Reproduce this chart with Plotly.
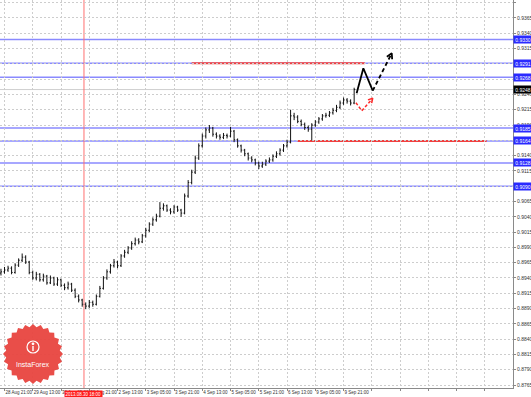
import math
import plotly.graph_objects as go

# ---------------- data (prices in pips above 0.8800) ----------------
BASE = 0.8800
PIP = 0.0001

bar_index = list(range(-2, 200, 2))  # H1 bar index, 0 = 28 Aug 21:00 (2-hour bars)

open_pips = [148, 150, 153, 156, 149, 161, 169, 174, 166, 149, 140, 146, 137, 143, 132, 140, 130, 137, 128, 124,
             130, 120, 110, 104, 97, 94, 100, 97, 110, 123, 140, 150, 160, 166, 160, 176, 182, 189, 196, 202,
             199, 209, 218, 228, 235, 241, 254, 258, 251, 248, 256, 251, 246, 274, 296, 313, 336, 356, 372, 382,
             385, 375, 372, 370, 373, 372, 380, 366, 356, 349, 343, 336, 333, 328, 323, 326, 331, 333, 339, 343,
             349, 356, 362, 405, 403, 396, 391, 386, 383, 390, 395, 400, 405, 406, 410, 414, 419, 426, 431, 429,
             426]
close_pips = [150, 153, 156, 149, 161, 169, 174, 166, 149, 140, 146, 137, 143, 132, 140, 130, 137, 128, 124, 130,
              120, 110, 104, 97, 94, 100, 97, 110, 123, 140, 150, 160, 166, 160, 176, 182, 189, 196, 202, 199,
              209, 218, 228, 235, 241, 254, 258, 251, 248, 256, 251, 246, 274, 296, 313, 336, 356, 372, 382, 385,
              375, 372, 370, 373, 372, 380, 366, 356, 349, 343, 336, 333, 328, 323, 326, 331, 333, 339, 343, 349,
              356, 362, 405, 403, 396, 391, 386, 383, 390, 395, 400, 405, 406, 410, 414, 419, 426, 431, 429, 426,
              448]
high_pips = [155, 158, 160, 159, 164, 172, 180, 177, 168, 152, 150, 148, 147, 145, 144, 142, 141, 139, 131, 134,
             132, 123, 113, 106, 100, 104, 103, 113, 127, 143, 154, 163, 171, 168, 179, 186, 192, 200, 206, 205,
             212, 222, 231, 239, 245, 264, 262, 260, 254, 259, 258, 253, 278, 300, 317, 340, 360, 376, 386, 390,
             387, 378, 375, 377, 376, 387, 382, 368, 358, 351, 345, 339, 335, 330, 330, 334, 337, 342, 347, 352,
             359, 366, 415, 410, 406, 399, 394, 389, 393, 398, 403, 408, 410, 413, 418, 423, 430, 435, 434, 432,
             451]
low_pips = [144, 147, 150, 146, 147, 158, 166, 163, 146, 137, 136, 134, 134, 129, 130, 127, 127, 125, 120, 121,
            117, 107, 100, 93, 89, 91, 93, 95, 108, 121, 137, 147, 157, 156, 158, 173, 179, 186, 193, 195,
            197, 206, 215, 225, 232, 239, 250, 248, 244, 245, 248, 240, 244, 271, 293, 310, 333, 353, 368, 377,
            371, 368, 366, 367, 368, 370, 362, 353, 345, 339, 332, 329, 324, 318, 320, 323, 328, 330, 336, 340,
            346, 353, 360, 398, 393, 388, 382, 379, 365, 387, 392, 397, 402, 403, 407, 411, 416, 423, 425, 422,
            424]

# time axis labels (bar index -> label)
label_bars = [0, 16, 32, 48, 64, 80, 96, 112, 128, 144, 160, 176, 192]
label_text = ["28 Aug 21:00", "29 Aug 13:00", "30 Aug 05:00", "30 Aug 21:00", "2 Sep 13:00", "3 Sep 05:00",
              "3 Sep 21:00", "4 Sep 13:00", "5 Sep 05:00", "5 Sep 21:00", "6 Sep 13:00", "9 Sep 05:00",
              "9 Sep 21:00"]
extra_grid_bars = [208, 224, 240, 256, 272]

# price axis labels ("" where the reference hides the label under a level tag)
price_tick_vals = ["0.8765", "0.8790", "0.8815", "0.8840", "0.8865", "0.8890", "0.8915", "0.8940", "0.8965",
                   "0.8990", "0.9015", "0.9040", "0.9065", "0.9090", "0.9115", "0.9140", "0.9165", "0.9190",
                   "0.9215", "0.9240", "0.9265", "0.9290", "0.9315", "0.9340", "0.9365", "0.9390"]
hidden_ticks = ["0.9090", "0.9165", "0.9265", "0.9290"]

# horizontal levels
blue_levels = [0.9330, 0.9291, 0.9268, 0.9185, 0.9164, 0.9128, 0.9090]
bid_price = 0.9248
red_upper = {"x": [106, 204], "price": 0.9291}
red_lower = {"x": [166, 273], "price": 0.9164}
marker_bar = 45  # 2013.08.30 18:00
marker_label = "2013.08.30 18:00"

# forecast paths (bar index, price)
black_solid_x = [199.4, 203.2, 208.5]
black_solid_y = [0.92419, 0.92828, 0.92461]
black_dash_x = [208.5, 219.3]
black_dash_y = [0.92461, 0.93073]
black_head_x = [216.5, 219.3, 219.5]
black_head_y = [0.93017, 0.93073, 0.92975]
red_path_x = [199.0, 202.3, 208.5]
red_path_y = [0.92265, 0.92134, 0.92337]
red_head_x = [205.8, 208.5, 207.9]
red_head_y = [0.92311, 0.92337, 0.92257]

# ---------------- figure ----------------
W, H = 531, 397
ML, MR, MT, MB = 0, 18, 0, 9
PW, PH = W - ML - MR, H - MT - MB
FONT = "Liberation Sans, Arial, sans-serif"

to_p = lambda v: BASE + v * PIP

fig = go.Figure()
fig.add_trace(go.Ohlc(
    x=bar_index,
    open=[to_p(v) for v in open_pips], high=[to_p(v) for v in high_pips],
    low=[to_p(v) for v in low_pips], close=[to_p(v) for v in close_pips],
    increasing=dict(line=dict(color="#111111", width=1)),
    decreasing=dict(line=dict(color="#111111", width=1)),
    tickwidth=0.3, hoverinfo="skip", showlegend=False,
))

fig.add_trace(go.Scatter(x=black_solid_x, y=black_solid_y, mode="lines",
                         line=dict(color="#000000", width=1.8), showlegend=False, hoverinfo="skip"))
fig.add_trace(go.Scatter(x=black_dash_x, y=black_dash_y, mode="lines",
                         line=dict(color="#000000", width=1.8, dash="4px,3px"), showlegend=False, hoverinfo="skip"))
fig.add_trace(go.Scatter(x=black_head_x, y=black_head_y, mode="lines",
                         line=dict(color="#000000", width=1.8), showlegend=False, hoverinfo="skip"))
fig.add_trace(go.Scatter(x=red_path_x, y=red_path_y, mode="lines",
                         line=dict(color="#ff2a2a", width=1.5, dash="3px,2px"), showlegend=False, hoverinfo="skip"))
fig.add_trace(go.Scatter(x=red_head_x, y=red_head_y, mode="lines",
                         line=dict(color="#ff2a2a", width=1.5), showlegend=False, hoverinfo="skip"))

shapes = []
for lv in blue_levels:
    shapes.append(dict(type="line", xref="paper", x0=0, x1=1, yref="y", y0=lv, y1=lv,
                       line=dict(color="#8a8aff", width=1.5), layer="below"))
shapes.append(dict(type="line", xref="paper", x0=0, x1=1, yref="y", y0=bid_price, y1=bid_price,
                   line=dict(color="#cfcfcf", width=1), layer="below"))
for rl in (red_upper, red_lower):
    shapes.append(dict(type="line", xref="x", x0=rl["x"][0], x1=rl["x"][1], yref="y",
                       y0=rl["price"], y1=rl["price"], line=dict(color="#f04040", width=2), layer="below"))
shapes.append(dict(type="line", xref="x", x0=marker_bar, x1=marker_bar, yref="paper", y0=0, y1=1,
                   line=dict(color="#ff7070", width=1), layer="below"))

# InstaForex badge (decoration, pixel based)
cx, cy, r_out, r_in, teeth = 33, 354, 30, 27, 24
pts = []
for k in range(teeth * 2):
    ang = math.pi * k / teeth
    r = r_out if k % 2 == 0 else r_in
    px = cx + r * math.cos(ang)
    py = cy + r * math.sin(ang)
    pts.append((px / PW, 1 - py / PH))
path = "M " + " L ".join(f"{a:.5f},{b:.5f}" for a, b in pts) + " Z"
shapes.append(dict(type="path", xref="paper", yref="paper", path=path,
                   fillcolor="#e8453f", line=dict(width=0), opacity=0.95, layer="above"))
ir = 6
icy = 347
shapes.append(dict(type="circle", xref="paper", yref="paper",
                   x0=(cx - ir) / PW, x1=(cx + ir) / PW, y0=1 - (icy + ir) / PH, y1=1 - (icy - ir) / PH,
                   line=dict(color="white", width=1.2), fillcolor="rgba(0,0,0,0)", layer="above"))
shapes.append(dict(type="line", xref="paper", yref="paper",
                   x0=cx / PW, x1=cx / PW, y0=1 - (icy + 4) / PH, y1=1 - (icy - 1) / PH,
                   line=dict(color="white", width=1.4), layer="above"))
shapes.append(dict(type="circle", xref="paper", yref="paper",
                   x0=(cx - 1.4) / PW, x1=(cx + 1.4) / PW, y0=1 - (icy - 1.8) / PH, y1=1 - (icy - 4.6) / PH,
                   line=dict(width=0), fillcolor="white", layer="above"))

annotations = []
annotations.append(dict(xref="paper", yref="paper", x=cx / PW, y=1 - 364 / PH, text="InstaForex",
                        xanchor="center", yanchor="middle", showarrow=False,
                        font=dict(color="white", size=7, family=FONT)))

for lv in blue_levels:
    annotations.append(dict(xref="paper", x=1, xanchor="left", yref="y", y=lv, text=f"{lv:.4f}",
                            showarrow=False, bgcolor="#2a2aff", borderpad=0.5, width=17,
                            font=dict(color="white", size=5, family=FONT)))
annotations.append(dict(xref="paper", x=1, xanchor="left", yref="y", y=bid_price, text=f"{bid_price:.4f}",
                        showarrow=False, bgcolor="#000000", borderpad=0.5, width=17,
                        font=dict(color="white", size=5, family=FONT)))
annotations.append(dict(xref="x", x=marker_bar, yref="paper", y=0, xanchor="center", yanchor="top",
                        yshift=-1.5, text=marker_label, showarrow=False, bgcolor="#ff1a1a", borderpad=0.5,
                        font=dict(color="white", size=4.5, family=FONT)))

grid = dict(gridcolor="#cdcdcd", griddash="2px,2px", gridwidth=1)

fig.update_layout(
    width=W, height=H, margin=dict(l=ML, r=MR, t=MT, b=MB),
    paper_bgcolor="white", plot_bgcolor="white", showlegend=False,
    shapes=shapes, annotations=annotations,
    xaxis=dict(range=[-2.55, 287.94], rangeslider=dict(visible=False),
               tickvals=label_bars + extra_grid_bars, ticktext=label_text + [""] * len(extra_grid_bars),
               ticklabelposition="outside right", tickangle=0, ticks="outside", ticklen=2, tickcolor="#888",
               tickfont=dict(size=4.5, color="#333", family=FONT),
               showline=True, linecolor="#8a8a8a", linewidth=1, zeroline=False, automargin=False,
               showgrid=True, **grid),
    yaxis=dict(side="right", range=[0.87601, 0.93944],
               tickvals=[float(t) for t in price_tick_vals],
               ticktext=["" if t in hidden_ticks else t for t in price_tick_vals],
               ticks="outside", ticklen=2, tickcolor="#888",
               tickfont=dict(size=5, color="#333", family=FONT),
               showline=True, linecolor="#8a8a8a", linewidth=1, zeroline=False, automargin=False,
               showgrid=True, **grid),
)

fig.write_html("out.html")
